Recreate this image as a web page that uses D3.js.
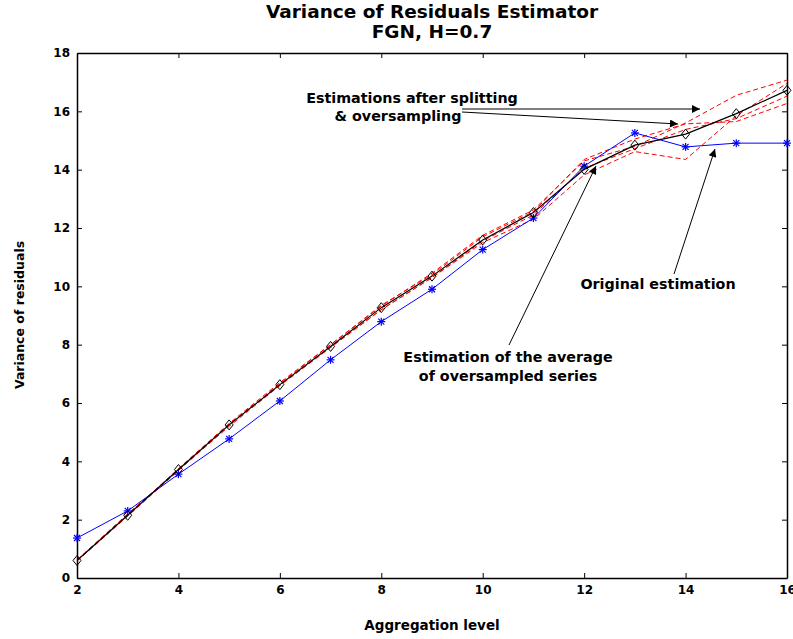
<!DOCTYPE html>
<html><head><meta charset="utf-8">
<script src="https://cdn.jsdelivr.net/npm/d3@7"></script>
<style>
body{margin:0;background:#fff;}
text{font-family:"DejaVu Sans",sans-serif;font-weight:bold;}
</style></head>
<body><svg id="c" width="793" height="639"></svg>
<script>
const levels = [2,3,4,5,6,7,8,9,10,11,12,13,14,15,16];
const original = [1.37,2.3,3.56,4.77,6.07,7.48,8.79,9.9,11.26,12.34,14.12,15.26,14.78,14.91,14.91];
const averaged = [0.6,2.15,3.72,5.25,6.63,7.94,9.27,10.35,11.59,12.53,14.01,14.84,15.22,15.92,16.72];
const splitA = [0.6,2.15,3.75,5.3,6.7,8.0,9.32,10.45,11.75,12.62,14.3,14.8,15.6,16.55,17.07];
const splitB = [0.62,2.2,3.7,5.2,6.6,7.9,9.2,10.3,11.5,12.3,13.82,14.62,14.35,15.85,16.96];
const splitC = [0.58,2.12,3.68,5.25,6.66,8.0,9.35,10.4,11.7,12.56,14.35,15.05,15.57,15.65,16.27];
const splitD = [0.6,2.18,3.72,5.28,6.6,7.92,9.2,10.3,11.56,12.45,14.05,14.72,15.38,15.75,16.52];
const splits = [splitA,splitB,splitC,splitD];
const xTicks = [2,4,6,8,10,12,14,16];
const yTicks = [0,2,4,6,8,10,12,14,16,18];

const svg = d3.select("#c");
const L=77,R=787,T=53,B=578;
const x = d3.scaleLinear().domain([2,16]).range([L,R]);
const y = d3.scaleLinear().domain([0,18]).range([B,T]);
const line = d3.line().x((d,i)=>x(levels[i])).y(d=>y(d));

// axes
const xb = svg.append("g").attr("transform",`translate(0,${B})`)
  .call(d3.axisBottom(x).tickValues(xTicks).tickSizeInner(-5).tickSizeOuter(0).tickPadding(7).tickFormat(d3.format("d")));
const xt = svg.append("g").attr("transform",`translate(0,${T})`)
  .call(d3.axisTop(x).tickValues(xTicks).tickSizeInner(-5).tickSizeOuter(0).tickFormat(""));
const yl = svg.append("g").attr("transform",`translate(${L},0)`)
  .call(d3.axisLeft(y).tickValues(yTicks).tickSizeInner(-5).tickSizeOuter(0).tickPadding(7).tickFormat(d3.format("d")));
const yr = svg.append("g").attr("transform",`translate(${R},0)`)
  .call(d3.axisRight(y).tickValues(yTicks).tickSizeInner(-5).tickSizeOuter(0).tickFormat(""));
[xb,xt,yl,yr].forEach(g=>{
  g.selectAll("path").attr("stroke","#000").attr("stroke-width",1.5);
  g.selectAll("line").attr("stroke","#000").attr("stroke-width",1);
  g.selectAll("text").attr("font-size",12).attr("font-weight","bold").attr("fill","#000")
   .attr("font-family","Liberation Sans, Arial, sans-serif");
});

// red dashed series
splits.forEach(s=>{
  svg.append("path").datum(s).attr("d",line).attr("fill","none")
    .attr("stroke","#ff0000").attr("stroke-width",1).attr("stroke-dasharray","5,3");
});
// original (blue)
svg.append("path").datum(original).attr("d",line).attr("fill","none").attr("stroke","#0000ff").attr("stroke-width",1);
original.forEach((v,i)=>{
  const g = svg.append("g").attr("transform",`translate(${x(levels[i])},${y(v)})`);
  [[-4,0,4,0],[0,-4,0,4],[-3,-3,3,3],[-3,3,3,-3]].forEach(s=>{
    g.append("line").attr("x1",s[0]).attr("y1",s[1]).attr("x2",s[2]).attr("y2",s[3])
     .attr("stroke","#0000ff").attr("stroke-width",1.2);
  });
});
// averaged (black)
svg.append("path").datum(averaged).attr("d",line).attr("fill","none").attr("stroke","#000").attr("stroke-width",1.2);
svg.selectAll(".dia").data(averaged).enter().append("path")
  .attr("d","M0,-5L4,0L0,5L-4,0Z")
  .attr("transform",(d,i)=>`translate(${x(levels[i])},${y(d)})`)
  .attr("fill","none").attr("stroke","#000").attr("stroke-width",1);

// arrows
svg.append("defs").append("marker").attr("id","ah").attr("viewBox","0 0 10 10")
  .attr("refX",10).attr("refY",5).attr("markerWidth",14).attr("markerHeight",8)
  .attr("markerUnits","userSpaceOnUse").attr("orient","auto")
  .append("path").attr("d","M0,0L10,5L0,10Z").attr("fill","#000");
const arrows = [
  [462,109,700,109],
  [462,112,678,124],
  [674,274,715,149],
  [509,345,596,166]
];
arrows.forEach(a=>{
  svg.append("line").attr("x1",a[0]).attr("y1",a[1]).attr("x2",a[2]).attr("y2",a[3])
    .attr("stroke","#000").attr("stroke-width",1).attr("marker-end","url(#ah)");
});

// annotations
function txt(t,xx,yy,size,anchor){
  return svg.append("text").attr("x",xx).attr("y",yy).attr("text-anchor",anchor||"middle")
    .attr("font-size",size).attr("fill","#000").text(t);
}
txt("Estimations after splitting",412,103,14.3);
txt("& oversampling",398,121,14.3);
txt("Original estimation",658,289,14.3);
txt("Estimation of the average",508,362,14.3);
txt("of oversampled series",508,381,14.3);

// titles
txt("Variance of Residuals Estimator",432,18,18.5);
txt("FGN, H=0.7",432,38,18.5);
txt("Aggregation level",432,630,13.5);
svg.append("text").attr("transform","translate(24,315) rotate(-90)").attr("text-anchor","middle")
  .attr("font-size",12.5).attr("fill","#000").text("Variance of residuals");
</script></body></html>
